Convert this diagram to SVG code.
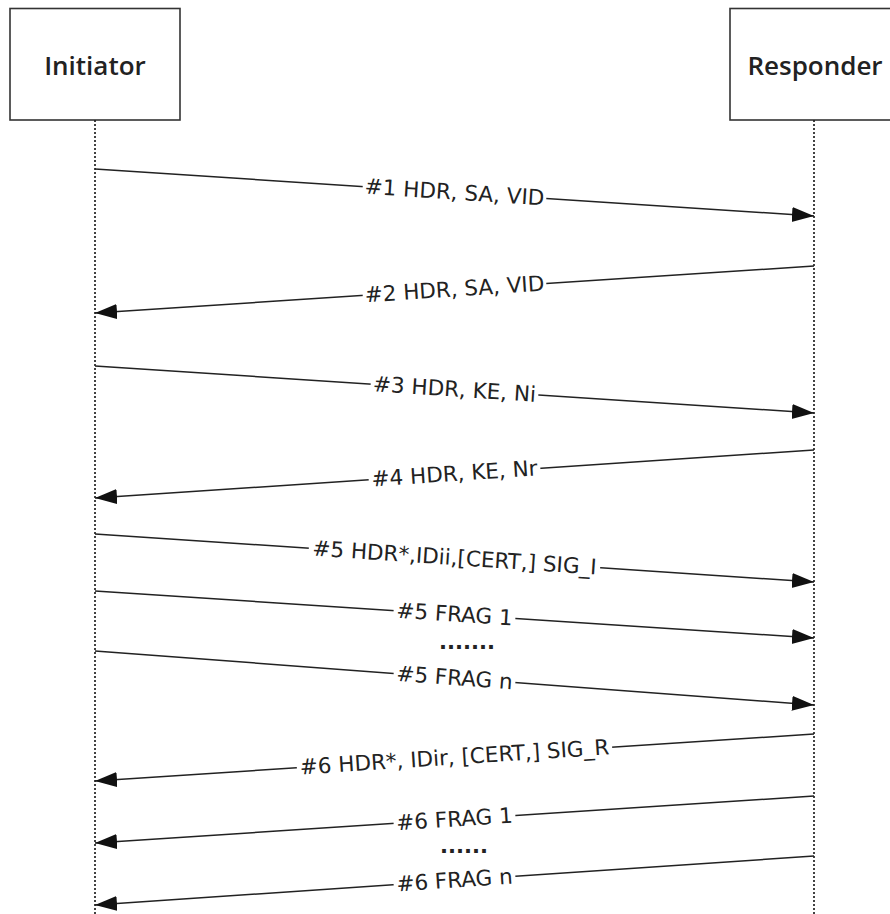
<svg xmlns="http://www.w3.org/2000/svg" width="890" height="914" viewBox="0 0 890 914">
<style>
.box{fill:#fff;stroke:#333;stroke-width:1.6}
.title{font-family:"Open Sans","DejaVu Sans",sans-serif;font-weight:600;font-size:26px;fill:#222;text-anchor:middle}
.life{stroke:#222;stroke-width:1.7;stroke-dasharray:2 2;fill:none}
.msg{stroke:#222;stroke-width:1.5;fill:none;marker-end:url(#ah)}
.lbl{font-family:"DejaVu Sans","Verdana",sans-serif;font-size:21.5px;fill:#222;text-anchor:middle}
.bg{fill:#fff}
.dots{font-family:"DejaVu Sans",sans-serif;font-size:21px;fill:#222;text-anchor:middle;font-weight:bold}
</style>
<defs>
<marker id="ah" markerUnits="userSpaceOnUse" markerWidth="24" markerHeight="18" refX="22" refY="7.5" orient="auto">
<path d="M0,0 L22,7.5 L0,15 Z" fill="#111"/>
</marker>
</defs>
<rect width="890" height="914" fill="#fff"/>
<g id="initiator">
<rect class="box" x="10" y="8.5" width="170" height="111.5"/>
<text class="title" x="95" y="75">Initiator</text>
<line class="life" x1="95" y1="120" x2="95" y2="914"/>
</g>
<g id="responder">
<rect class="box" x="730" y="8.5" width="170" height="111.5"/>
<text class="title" x="815" y="75">Responder</text>
<line class="life" x1="814" y1="120" x2="814" y2="914"/>
</g>
<g id="connectors">
<line class="msg" x1="95" y1="169" x2="814" y2="216"/>
<g transform="translate(454.5,192.5) rotate(3.74)"><rect class="bg" x="-92" y="-10" width="184" height="20"/><text class="lbl" x="0" y="7">#1 HDR, SA, VID</text></g>

<line class="msg" x1="814" y1="266" x2="95" y2="313"/>
<g transform="translate(454.5,289.5) rotate(-3.74)"><rect class="bg" x="-92" y="-10" width="184" height="20"/><text class="lbl" x="0" y="7">#2 HDR, SA, VID</text></g>

<line class="msg" x1="95" y1="366" x2="814" y2="413"/>
<g transform="translate(454.5,389.5) rotate(3.74)"><rect class="bg" x="-84" y="-10" width="168" height="20"/><text class="lbl" x="0" y="7">#3 HDR, KE, Ni</text></g>

<line class="msg" x1="814" y1="450" x2="95" y2="498"/>
<g transform="translate(454.5,474) rotate(-3.82)"><rect class="bg" x="-86" y="-10" width="172" height="20"/><text class="lbl" x="0" y="7">#4 HDR, KE, Nr</text></g>

<line class="msg" x1="95" y1="534" x2="814" y2="582"/>
<g transform="translate(454.5,558) rotate(3.82)"><rect class="bg" x="-146" y="-10" width="292" height="20"/><text class="lbl" x="0" y="7">#5 HDR*,IDii,[CERT,] SIG_I</text></g>

<line class="msg" x1="95" y1="591" x2="814" y2="638"/>
<g transform="translate(454.5,614.5) rotate(3.74)"><rect class="bg" x="-61" y="-10" width="122" height="20"/><text class="lbl" x="0" y="7">#5 FRAG 1</text></g>

<text class="dots" x="467" y="649">.......</text>

<line class="msg" x1="95" y1="651" x2="814" y2="705"/>
<g transform="translate(454.5,678) rotate(4.29)"><rect class="bg" x="-61" y="-10" width="122" height="20"/><text class="lbl" x="0" y="7">#5 FRAG n</text></g>

<line class="msg" x1="814" y1="734" x2="95" y2="781"/>
<g transform="translate(454.5,757.5) rotate(-3.74)"><rect class="bg" x="-158" y="-10" width="316" height="20"/><text class="lbl" x="0" y="7">#6 HDR*, IDir, [CERT,] SIG_R</text></g>

<line class="msg" x1="814" y1="796" x2="95" y2="843"/>
<g transform="translate(454.5,819.5) rotate(-3.74)"><rect class="bg" x="-61" y="-10" width="122" height="20"/><text class="lbl" x="0" y="7">#6 FRAG 1</text></g>

<text class="dots" x="464" y="853">......</text>

<line class="msg" x1="814" y1="856" x2="95" y2="905"/>
<g transform="translate(454.5,880.5) rotate(-3.9)"><rect class="bg" x="-61" y="-10" width="122" height="20"/><text class="lbl" x="0" y="7">#6 FRAG n</text></g>
</g>
</svg>
